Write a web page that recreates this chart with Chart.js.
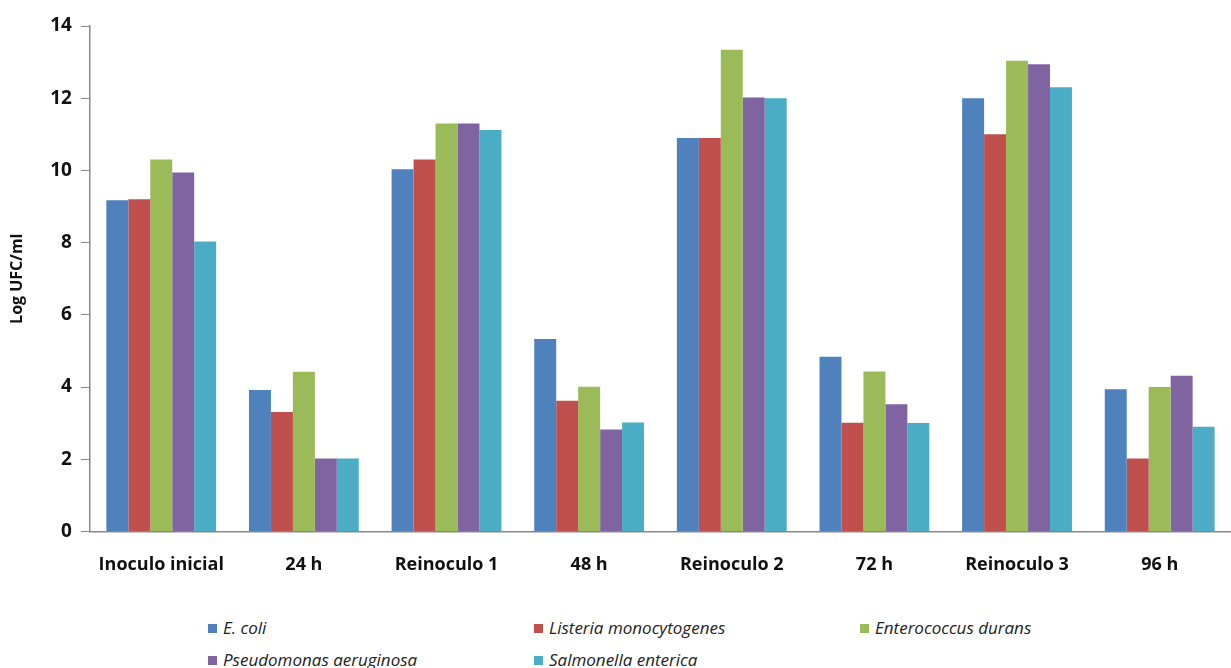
<!DOCTYPE html>
<html>
<head>
<meta charset="utf-8">
<script src="https://cdn.jsdelivr.net/npm/chart.js@4/dist/chart.umd.min.js"></script>
<style>
    html, body { margin: 0; padding: 0; background: #fff; }
    .chart-wrap { position: relative; width: 1231px; height: 600px; }
    .legend {
        display: grid;
        grid-template-columns: 326px 326px 326px;
        row-gap: 10px;
        margin-left: 208px;
        margin-top: 17px;
        font-family: 'Open Sans', sans-serif;
        font-style: italic;
        font-size: 17px;
        color: #222;
    }
    .legend-item { display: flex; align-items: center; line-height: 22px; }
    .legend-box { width: 9px; height: 9px; margin-right: 6px; }
</style>
</head>
<body>
<div class="chart-wrap">
    <canvas id="ufcBarChart" width="1231" height="600"></canvas>
</div>
<div class="legend" id="ufcLegend"></div>

<script>
const categories = ['Inoculo inicial', '24 h', 'Reinoculo 1', '48 h', 'Reinoculo 2', '72 h', 'Reinoculo 3', '96 h']
const yTicks = [0, 2, 4, 6, 8, 10, 12, 14]

const eColi = [9.17, 3.92, 10.03, 5.33, 10.9, 4.84, 12.0, 3.94]
const listeria = [9.2, 3.31, 10.3, 3.62, 10.9, 3.01, 11.0, 2.02]
const enterococcus = [10.3, 4.42, 11.3, 4.01, 13.34, 4.43, 13.04, 4.0]
const pseudomonas = [9.94, 2.02, 11.3, 2.82, 12.02, 3.52, 12.94, 4.31]
const salmonella = [8.03, 2.02, 11.12, 3.02, 12.0, 3.0, 12.3, 2.9]

const seriesNames = ['E. coli', 'Listeria monocytogenes', 'Enterococcus durans', 'Pseudomonas aeruginosa', 'Salmonella enterica']
const seriesColors = ['#4F81BD', '#C0504D', '#9BBB59', '#8064A2', '#4BACC6']
const seriesValues = [eColi, listeria, enterococcus, pseudomonas, salmonella]

const fontFamily = "'Open Sans', sans-serif"

var ufcChart = new Chart(document.getElementById('ufcBarChart'), {
    type: 'bar',
    data: {
        labels: categories,
        datasets: seriesValues.map((values, i) => ({
            label: seriesNames[i],
            data: values,
            backgroundColor: seriesColors[i],
            borderWidth: 0,
            categoryPercentage: 0.77,
            barPercentage: 1.0,
        }))
    },
    options: {
        responsive: false,
        animation: false,
        layout: { padding: { top: 26, right: 0, bottom: 1, left: 8 } },
        plugins: {
            legend: { display: false },
            tooltip: { enabled: false },
        },
        scales: {
            x: {
                grid: { display: false, tickLength: 0 },
                border: { display: true, color: '#888', width: 1.5 },
                ticks: { color: '#111', font: { family: fontFamily, size: 18, weight: 'bold' }, padding: 23, maxRotation: 0 },
            },
            y: {
                min: 0,
                max: 14,
                afterBuildTicks: axis => { axis.ticks = yTicks.map(v => ({ value: v })) },
                grid: { drawOnChartArea: false, drawTicks: true, tickLength: 9, color: '#888' },
                border: { display: true, color: '#888', width: 1.5 },
                ticks: { color: '#111', font: { family: fontFamily, size: 19, weight: 'bold' }, padding: 9 },
                title: {
                    display: true,
                    text: 'Log UFC/ml',
                    color: '#111',
                    font: { family: fontFamily, size: 16, weight: 'bold' },
                    padding: { top: 0, bottom: 14 },
                },
            },
        },
    },
})

// legend in a fixed three-column grid, built from the datasets
const legendEl = document.getElementById('ufcLegend')
legendEl.innerHTML = ufcChart.data.datasets.map(ds => `
    <div class="legend-item">
        <span class="legend-box" style="background:${ds.backgroundColor}"></span>
        <span>${ds.label}</span>
    </div>`).join('')
</script>
</body>
</html>
